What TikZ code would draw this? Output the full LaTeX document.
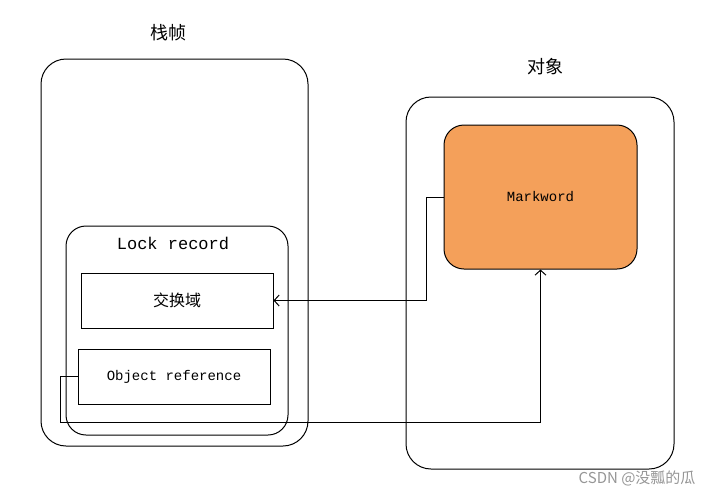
\documentclass[tikz,border=0pt]{standalone}
\usepackage{fontspec}
\setmonofont{Liberation Mono}
\newfontfamily\cjk{Noto Sans CJK SC}
\usepackage{xcolor}
\usetikzlibrary{arrows.meta}
\definecolor{markorange}{RGB}{244,160,90}
\definecolor{wmgray}{RGB}{150,150,150}

\begin{document}
\begin{tikzpicture}[x=1pt,y=-1pt,
  box/.style={draw, line width=1pt, inner sep=0pt},
  link/.style={-{Straight Barb[length=5pt,width=11pt]}, line width=1pt},
  title/.style={font=\cjk\fontsize{18}{20}\selectfont}]
\useasboundingbox (0,0) rectangle (715,496);
% outer frames
\node[box, rounded corners=25pt, minimum width=267pt, minimum height=387pt] (frame) at (174.5,252.5) {};
\node[box, rounded corners=25pt, minimum width=268pt, minimum height=372pt] (obj) at (540,283) {};
\node[title] (frametitle) at (168,33) {栈帧};
\node[title] (objtitle) at (545,67) {对象};
% object header
\node[box, fill=markorange, rounded corners=20pt, minimum width=193pt, minimum height=144pt,
  font=\ttfamily\fontsize{14}{16}\selectfont] (mark) at (540.5,197) {Markword};
% lock record
\node[box, rounded corners=20pt, minimum width=222pt, minimum height=209pt] (lock) at (177,330.5) {};
\node[font=\ttfamily\fontsize{17}{19}\selectfont] (locktitle) at (173,243) {Lock record};
\node[box, minimum width=192pt, minimum height=55pt, font=\cjk\fontsize{16}{18}\selectfont] (swap) at (177,300.5) {交换域};
\node[box, minimum width=192pt, minimum height=55pt, font=\ttfamily\fontsize{14}{16}\selectfont] (ref) at (174,376.5) {Object reference};
% pointers
\coordinate (low) at (0,422);
\draw[link] (mark.west) -- ++(-17,0) |- (swap.east);
\draw[link] (ref.west) -- ++(-17,0) |- (mark.south |- low) -- (mark.south);
\node[anchor=east, text=wmgray, font=\cjk\fontsize{15}{17}\selectfont] (wm) at (699,478) {CSDN @没瓢的瓜};
\end{tikzpicture}
\end{document}
